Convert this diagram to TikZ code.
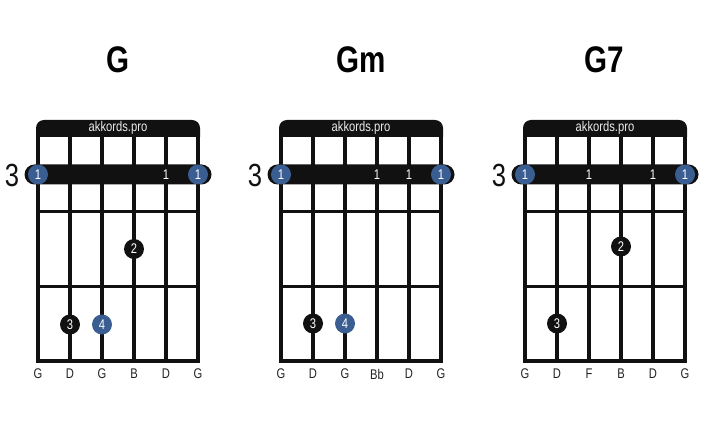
\documentclass[tikz,border=0pt]{standalone}
\usepackage{fontspec}
\setmainfont{Liberation Sans}
\definecolor{ink}{HTML}{111111}
\definecolor{fblue}{RGB}{58,94,146}
\definecolor{lbl}{HTML}{222222}
\newcommand\nar[1]{\scalebox{0.8}[1]{#1}}
\tikzset{
  gridline/.style={line width=3.5pt, draw=ink},
  dot/.style={circle, fill=ink, minimum size=20pt, inner sep=0pt, text=white, font=\fontsize{14}{14}\selectfont},
  bdot/.style={dot, fill=fblue},
  barre/.style={fill=ink, rounded corners=10pt, minimum height=20pt, minimum width=187pt, inner sep=0pt},
  bnum/.style={text=white, inner sep=0pt, font=\fontsize{14}{14}\selectfont},
  title/.style={font=\fontsize{37}{37}\selectfont\bfseries, text=black},
  brand/.style={text=white!92!black, inner sep=0pt, font=\fontsize{14}{14}\selectfont},
  fretnum/.style={inner sep=0pt, font=\fontsize{32}{32}\selectfont, text=ink},
  strlbl/.style={inner sep=0pt, text=lbl, font=\fontsize{14}{14}\selectfont},
}
\newcommand\chordgrid[1]{%
  \fill[ink] (#1-2,137) [rounded corners=8pt] -- (#1-2,120) -- (#1+162,120) [sharp corners] -- (#1+162,137) -- cycle;
  \foreach \s in {0,...,5} \draw[gridline] (#1+32*\s,136) -- (#1+32*\s,361);
  \foreach \f in {211.7,286.3} \draw[gridline] (#1,\f) -- (#1+160,\f);
  \draw[gridline, line cap=rect] (#1,361) -- (#1+160,361);
}
\begin{document}
\begin{tikzpicture}[x=1pt, y=-1pt]
\useasboundingbox (0,0) rectangle (720,427);
% ---------- G ----------
\node[title] (t1) at (118,60) {\nar{G}};
\chordgrid{38}
\node[brand] (h1) at (118,128) {\nar{akkords.pro}};
\node[fretnum] (fr1) at (12,175) {\nar{3}};
\node[barre] (b1) at (118,174.5) {};
\node[bdot] (d1a) at (38,174.5) {\nar{1}};
\node[bdot] (d1b) at (198,174.5) {\nar{1}};
\node[bnum] (n1a) at (166,174.5) {\nar{1}};
\node[dot] (d1c) at (134,249) {\nar{2}};
\node[dot] (d1d) at (70,324.5) {\nar{3}};
\node[bdot] (d1e) at (102,324.5) {\nar{4}};
\foreach \l [count=\i from 0] in {G,D,G,B,D,G}
  \node[strlbl] (s1-\i) at (38+32*\i,374) {\nar{\l}};
% ---------- Gm ----------
\node[title] (t2) at (361,60) {\nar{Gm}};
\chordgrid{281}
\node[brand] (h2) at (361,128) {\nar{akkords.pro}};
\node[fretnum] (fr2) at (255,175) {\nar{3}};
\node[barre] (b2) at (361,174.5) {};
\node[bdot] (d2a) at (281,174.5) {\nar{1}};
\node[bdot] (d2b) at (441,174.5) {\nar{1}};
\node[bnum] (n2a) at (377,174.5) {\nar{1}};
\node[bnum] (n2b) at (409,174.5) {\nar{1}};
\node[dot] (d2c) at (313,323.5) {\nar{3}};
\node[bdot] (d2d) at (345,323.5) {\nar{4}};
\foreach \l [count=\i from 0] in {G,D,G,Bb,D,G}
  \node[strlbl] (s2-\i) at (281+32*\i,374) {\nar{\l}};
% ---------- G7 ----------
\node[title] (t3) at (604,60) {\nar{G7}};
\chordgrid{525}
\node[brand] (h3) at (605,128) {\nar{akkords.pro}};
\node[fretnum] (fr3) at (499,175) {\nar{3}};
\node[barre] (b3) at (605,174.5) {};
\node[bdot] (d3a) at (525,174.5) {\nar{1}};
\node[bdot] (d3b) at (685,174.5) {\nar{1}};
\node[bnum] (n3a) at (589,174.5) {\nar{1}};
\node[bnum] (n3b) at (653,174.5) {\nar{1}};
\node[dot] (d3c) at (621,246.5) {\nar{2}};
\node[dot] (d3d) at (557,323.5) {\nar{3}};
\foreach \l [count=\i from 0] in {G,D,F,B,D,G}
  \node[strlbl] (s3-\i) at (525+32*\i,374) {\nar{\l}};
\end{tikzpicture}
\end{document}
